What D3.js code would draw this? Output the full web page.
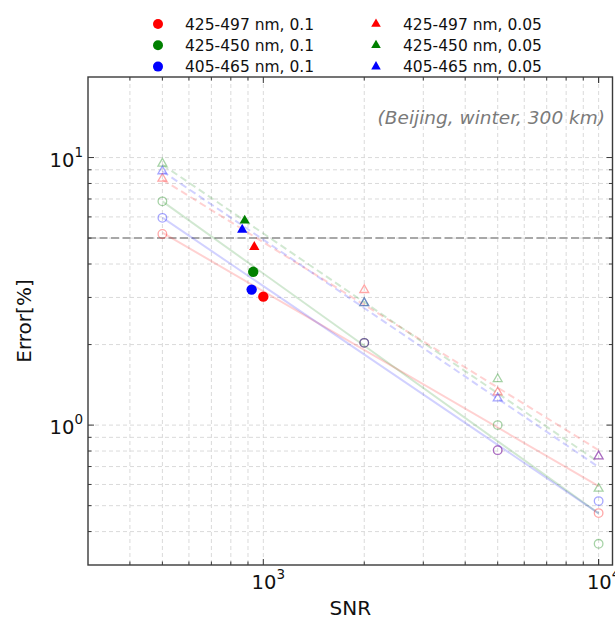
<!DOCTYPE html>
<meta charset="utf-8">
<head>
<style>
body { margin: 0; background: #fff; }
text { font-family: "DejaVu Sans", sans-serif; }
.grid line { stroke: #d6d6d6; stroke-dasharray: 4,3; stroke-width: 0.9; }
.frame { fill: none; stroke: #3a3a3a; stroke-width: 1.4; }
</style>
</head>
<body>
<svg width="615" height="619"></svg>
<script src="https://cdn.jsdelivr.net/npm/d3@7/dist/d3.min.js"></script>
<script>

// simulated SNR values (open markers)
var snr = [500, 2000, 5000, 10000];

// error [%], aerosol 0.1 (circles)
var err497_01 = [5.18, 2.03, 0.806, 0.469];
var err450_01 = [6.86, 2.03, 1.0, 0.36];
var err465_01 = [5.95, 2.03, 0.806, 0.52];

// error [%], aerosol 0.05 (triangles)
var err497_005 = [8.34, 3.20, 1.326, 0.765];
var err450_005 = [9.5, 2.86, 1.486, 0.579];
var err465_005 = [8.89, 2.86, 1.26, 0.765];

// instrument points (filled markers): [snr, error]
var inst497_01 = [1000, 3.02];
var inst450_01 = [933, 3.74];
var inst465_01 = [923, 3.21];
var inst497_005 = [940, 4.63];
var inst450_005 = [880, 5.81];
var inst465_005 = [865, 5.37];

// fitted lines, from snr 500 to 10000
var fitSnr = [500, 10000];
var fit497_01 = [5.24, 0.591];
var fit450_01 = [6.86, 0.468];
var fit465_01 = [5.96, 0.468];
var fit497_005 = [8.27, 0.806];
var fit450_005 = [9.41, 0.727];
var fit465_005 = [8.89, 0.697];

var labels = ["425-497 nm, 0.1", "425-450 nm, 0.1", "405-465 nm, 0.1",
              "425-497 nm, 0.05", "425-450 nm, 0.05", "405-465 nm, 0.05"];

var xTicks = [1000, 10000];
var yTicks = [1, 10];
var threshold = 5;

var series = [
  {label: labels[0], color: "red",   shape: "circle",   vals: err497_01,  inst: inst497_01,  fit: fit497_01},
  {label: labels[1], color: "green", shape: "circle",   vals: err450_01,  inst: inst450_01,  fit: fit450_01},
  {label: labels[2], color: "blue",  shape: "circle",   vals: err465_01,  inst: inst465_01,  fit: fit465_01},
  {label: labels[3], color: "red",   shape: "triangle", vals: err497_005, inst: inst497_005, fit: fit497_005},
  {label: labels[4], color: "green", shape: "triangle", vals: err450_005, inst: inst450_005, fit: fit450_005},
  {label: labels[5], color: "blue",  shape: "triangle", vals: err465_005, inst: inst465_005, fit: fit465_005}
];

var svg = d3.select("svg");
var L = 88, R = 612.5, T = 77, B = 565;

var x = d3.scaleLog().domain([300, 11000]).range([L, R]);
var y = d3.scaleLog().domain([0.3, 20]).range([B, T]);

// grid (major + minor)
var xGrid = x.ticks().filter(function(v){ return v > 300 && v < 11000; });
var yGrid = y.ticks().filter(function(v){ return v > 0.3 && v < 20; });

var grid = svg.append("g").attr("class", "grid");
grid.selectAll(".gx").data(xGrid).enter().append("line")
  .attr("x1", function(d){ return x(d); }).attr("x2", function(d){ return x(d); })
  .attr("y1", T).attr("y2", B);
grid.selectAll(".gy").data(yGrid).enter().append("line")
  .attr("y1", function(d){ return y(d); }).attr("y2", function(d){ return y(d); })
  .attr("x1", L).attr("x2", R);

// 5% threshold
svg.append("line")
  .attr("x1", L).attr("x2", R)
  .attr("y1", y(threshold)).attr("y2", y(threshold))
  .style("stroke", "#a8a8a8").style("stroke-width", 2)
  .style("stroke-dasharray", "8,3.5");

var tri = d3.symbol().type(d3.symbolTriangle);

// fit lines
series.forEach(function(s){
  svg.append("line")
    .attr("x1", x(fitSnr[0])).attr("y1", y(s.fit[0]))
    .attr("x2", x(fitSnr[1])).attr("y2", y(s.fit[1]))
    .style("stroke", s.color).style("stroke-opacity", 0.18)
    .style("stroke-width", 2)
    .style("stroke-dasharray", s.shape == "triangle" ? "7,4" : null);
});

// open markers
series.forEach(function(s){
  var g = svg.append("g");
  snr.forEach(function(v, i){
    if (s.shape == "circle") {
      g.append("circle").attr("cx", x(v)).attr("cy", y(s.vals[i])).attr("r", 4.3)
        .style("fill", "none").style("stroke", s.color)
        .style("stroke-opacity", 0.35).style("stroke-width", 1.3);
    } else {
      g.append("path").attr("d", tri.size(34)())
        .attr("transform", "translate(" + x(v) + "," + y(s.vals[i]) + ")")
        .style("fill", "none").style("stroke", s.color)
        .style("stroke-opacity", 0.35).style("stroke-width", 1.3);
    }
  });
});

// filled instrument markers
series.forEach(function(s){
  if (s.shape == "circle") {
    svg.append("circle").attr("cx", x(s.inst[0])).attr("cy", y(s.inst[1])).attr("r", 5.2)
      .style("fill", s.color);
  } else {
    svg.append("path").attr("d", tri.size(46)())
      .attr("transform", "translate(" + x(s.inst[0]) + "," + y(s.inst[1]) + ")")
      .style("fill", s.color);
  }
});

// frame
svg.append("rect").attr("class", "frame")
  .attr("x", L).attr("y", T).attr("width", R - L).attr("height", B - T);

// inward ticks on all sides
var ticks = svg.append("g").style("stroke", "#3a3a3a").style("stroke-width", 1);
xGrid.concat([10000]).forEach(function(v){
  var len = xTicks.indexOf(v) >= 0 ? 6 : 3.5;
  ticks.append("line").attr("x1", x(v)).attr("x2", x(v)).attr("y1", B).attr("y2", B - len);
  ticks.append("line").attr("x1", x(v)).attr("x2", x(v)).attr("y1", T).attr("y2", T + len);
});
yGrid.forEach(function(v){
  var len = yTicks.indexOf(v) >= 0 ? 6 : 3.5;
  ticks.append("line").attr("y1", y(v)).attr("y2", y(v)).attr("x1", L).attr("x2", L + len);
  ticks.append("line").attr("y1", y(v)).attr("y2", y(v)).attr("x1", R).attr("x2", R - len);
});

// tick labels 10^n
function powLabel(g, n) {
  g.append("tspan").text("10");
  g.append("tspan").attr("dy", -10).style("font-size", "13.5px").text(n);
}
xTicks.forEach(function(v){
  var t = svg.append("text").attr("x", x(v) + 5).attr("y", 589)
    .attr("text-anchor", "middle").style("font-size", "19.5px").style("fill", "#111");
  powLabel(t, Math.round(Math.log10(v)));
});
yTicks.forEach(function(v){
  var t = svg.append("text").attr("x", 83).attr("y", y(v) + 9)
    .attr("text-anchor", "end").style("font-size", "19.5px").style("fill", "#111");
  powLabel(t, Math.round(Math.log10(v)));
});

// axis titles
svg.append("text").attr("x", (L + R) / 2).attr("y", 615).attr("text-anchor", "middle")
  .style("font-size", "20px").style("fill", "#111").text("SNR");
svg.append("text").attr("transform", "translate(31," + (T + B) / 2 + ") rotate(-90)")
  .attr("text-anchor", "middle").style("font-size", "20px").style("fill", "#111").text("Error[%]");

// annotation
svg.append("text").attr("x", 605).attr("y", 124).attr("text-anchor", "end")
  .style("font-size", "18.5px").style("font-style", "italic").style("fill", "#7a7a7a")
  .text("(Beijing, winter, 300 km)");

// legend, two columns above the plot
var leg = svg.append("g");
series.forEach(function(s, i){
  var col = Math.floor(i / 3), row = i % 3;
  var mx = col == 0 ? 158 : 376, cy = 24 + row * 21.3;
  if (s.shape == "circle") {
    leg.append("circle").attr("cx", mx).attr("cy", cy).attr("r", 5).style("fill", s.color);
  } else {
    leg.append("path").attr("d", tri.size(40)())
      .attr("transform", "translate(" + mx + "," + cy + ")").style("fill", s.color);
  }
  leg.append("text").attr("x", mx + 27).attr("y", cy + 5.5)
    .style("font-size", "15.5px").style("fill", "#111").text(s.label);
});

</script>
</body>
